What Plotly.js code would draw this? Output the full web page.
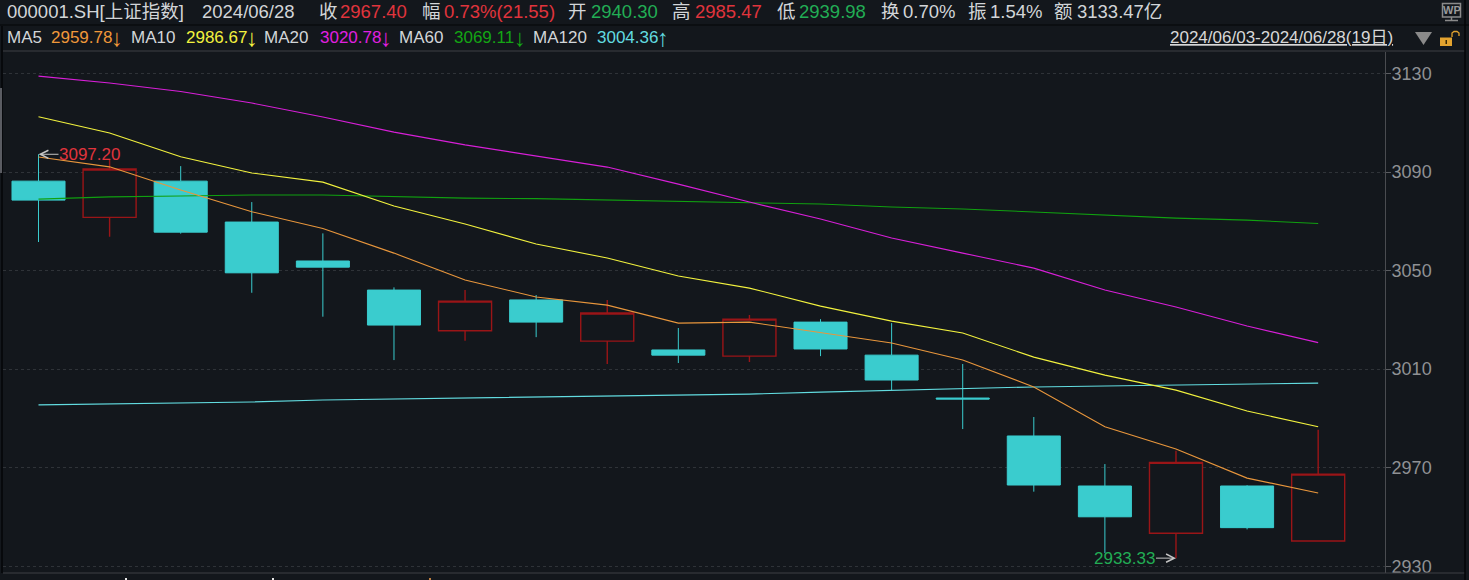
<!DOCTYPE html>
<html><head><meta charset="utf-8">
<script src="https://cdn.plot.ly/plotly-3.0.1.min.js"></script>
<style>html,body{margin:0;padding:0;background:#13171c;overflow:hidden}#c{width:1469px;height:580px}</style>
</head><body><div id="c"></div>
<script>
const dates=["06/03","06/04","06/05","06/06","06/07","06/11","06/12","06/13","06/14","06/17","06/18","06/19","06/20","06/21","06/24","06/25","06/26","06/27","06/28"];
const openV=[3086.3,3071.6,3086.3,3069.7,3053.9,3042.1,3025.6,3038.1,3021.4,3017.8,3015.3,3029.1,3015.7,2998.3,2982.9,2962.6,2943.4,2962.6,2940.30];
const highV=[3097.20,3094.9,3092.4,3077.8,3065.1,3043.2,3042.1,3040.1,3038.1,3026.7,3032.0,3030.3,3028.7,3012.1,2990.6,2971.5,2976.9,2962.9,2985.47];
const lowV=[3061.6,3063.7,3065.0,3041.0,3031.3,3013.7,3021.5,3023.0,3012.1,3012.5,3012.9,3015.3,3001.5,2985.7,2960.3,2935.4,2933.33,2945.0,2939.98];
const closeV=[3078.6,3091.2,3065.6,3049.1,3051.4,3027.9,3037.6,3029.1,3032.8,3015.7,3030.3,3018.2,3005.6,2997.9,2963.0,2950.1,2972.2,2945.7,2967.40];
const ma5=[3096.1,3092.1,3082.7,3073.9,3067.1,3057.1,3046.2,3039.3,3036.0,3028.7,3029.1,3024.7,3020.6,3013.7,3002.8,2986.6,2977.6,2965.8,2959.78];
const ma10=[3112.4,3105.8,3096.2,3089.6,3085.9,3076.2,3068.9,3060.8,3055.1,3047.8,3042.9,3035.6,3029.5,3024.7,3014.9,3007.6,3001.5,2993.0,2986.67];
const ma20=[3128.9,3126.1,3122.7,3118.0,3112.3,3106.2,3101.0,3096.5,3092.0,3085.1,3077.8,3070.9,3063.2,3057.1,3051.0,3042.1,3035.2,3027.5,3020.78];
const ma60=[3079.0,3079.9,3080.3,3080.7,3080.7,3079.9,3079.4,3079.2,3078.6,3078.2,3077.4,3077.0,3075.8,3075.0,3073.8,3072.5,3071.3,3070.5,3069.11];
const ma120=[2995.5,2995.9,2996.3,2996.7,2997.5,2997.9,2998.3,2998.7,2999.1,2999.5,2999.9,3000.7,3001.5,3002.3,3002.8,3003.2,3003.6,3004.0,3004.36];
const yTicks=[2930,2970,3010,3050,3090,3130];

const RED="#e0343c",GRN="#22ad55",TXT="#d2d5d8",FONT='"Liberation Sans","Noto Sans CJK SC",sans-serif';
const C5="#e8963c",C10="#f2f23e",C20="#d81fd8",C60="#10a010",C120="#62dce0";
const L=3,R=1385,T=52,B=573;
const px=x=>(x-L)/(R-L), py=y=>(B-y)/(B-T);

const row1=[["000001.SH[上证指数]",6,TXT],["2024/06/28",201,TXT],["收",318,TXT],["2967.40",339,RED],["幅",421,TXT],["0.73%(21.55)",443,RED],["开",567,TXT],["2940.30",590,GRN],["高",671,TXT],["2985.47",694,RED],["低",776,TXT],["2939.98",798,GRN],["换",880,TXT],["0.70%",902,TXT],["振",967,TXT],["1.54%",989,TXT],["额",1053,TXT],["3133.47亿",1076,TXT]];
const row2=[["MA5",6,TXT],["2959.78",50,"#f0983a"],["MA10",130,TXT],["2986.67",185,C10],["MA20",263,TXT],["3020.78",319,"#e020e0"],["MA60",398,TXT],["3069.11",453,"#14a514"],["MA120",532,TXT],["3004.36",596,C120],["<u>2024/06/03-2024/06/28(19日)</u>",1169,"#d8d8d8"]];
const arrows=[["↓",110,"#f0983a"],["↓",245,C10],["↓",379,"#e020e0"],["↓",513,"#14a514"],["↑",656,C120]];
const txt=(r,y,size)=>({text:r[0],x:px(r[1]),y:py(y),xref:"paper",yref:"paper",xanchor:"left",yanchor:"middle",showarrow:false,borderpad:0,font:{family:FONT,size,color:r[2]}});
const annotations=[...row1.map(r=>txt(r,11.5,18.5)),...row2.map(r=>txt(r,38,17)),...arrows.map(r=>txt(r,37,24)),
 {text:"<b>WP</b>",x:px(1451.5),y:py(10.5),xref:"paper",yref:"paper",xanchor:"center",yanchor:"middle",showarrow:false,borderpad:0,font:{family:FONT,size:11,color:"#9a9a9a"}},
 {text:"3097.20",x:0,y:highV[0],xref:"x",yref:"y",ax:51,ay:0,showarrow:true,arrowhead:5,arrowsize:1.6,arrowwidth:1,arrowcolor:"#c4c4c4",standoff:0,borderpad:0,font:{family:FONT,size:17,color:RED}},
 {text:"2933.33",x:16,y:lowV[16],xref:"x",yref:"y",ax:-51,ay:0,showarrow:true,arrowhead:5,arrowsize:1.6,arrowwidth:1,arrowcolor:"#c4c4c4",standoff:0,borderpad:0,font:{family:FONT,size:17,color:GRN}}
];
const pl=(x0,y0,x1,y1,c,w)=>({type:"line",xref:"paper",yref:"paper",x0:px(x0),y0:py(y0),x1:px(x1),y1:py(y1),line:{color:c,width:w||1}});
const rc=(x0,y0,x1,y1,fill,line,w)=>({type:"rect",xref:"paper",yref:"paper",x0:px(x0),y0:py(y0),x1:px(x1),y1:py(y1),fillcolor:fill,line:{color:line||fill,width:line?(w||1):0}});
const tri=(pts,fill)=>({type:"path",xref:"paper",yref:"paper",path:"M"+pts.map(p=>px(p[0])+","+py(p[1])).join("L")+"Z",fillcolor:fill,line:{width:0}});
const shapes=[
 pl(0,25,1469,25,"#050607",1),pl(3,51,1465,51,"#3e4145",1),pl(3,573,1465,573,"#3e4145",1),
 pl(2,26,2,573,"#050607",1.5),pl(1465,0,1465,580,"#050607",1.5),
 rc(0,88,2,173,"#5a5c62"),
 tri([[1415,32],[1432,32],[1423.5,45]],"#8a8a8a"),
 rc(1440,37.5,1452,46,"#e3a32f"),rc(1445.5,40,1447,44,"#3a2a05"),
 {type:"path",xref:"paper",yref:"paper",path:"M"+px(1452)+","+py(37)+"L"+px(1452)+","+py(33)+"L"+px(1454)+","+py(31.5)+"L"+px(1457)+","+py(31.5)+"L"+px(1459)+","+py(33)+"L"+px(1459)+","+py(36),line:{color:"#e3a32f",width:1.3}},
 rc(1442.5,3.5,1460.5,17,"rgba(0,0,0,0)","#8a8a8a",1.5),pl(1451.5,17,1451.5,20,"#8a8a8a",1.5),pl(1445,20.5,1458,20.5,"#8a8a8a",1.5),
 pl(126,578,126,580,"#e8e8e8",2),pl(273,578,273,580,"#e8e8e8",2),pl(430,578,430,580,"#c08040",2)
];
const line=(y,c,name)=>({type:"scatter",mode:"lines",x:dates,y,name,line:{color:c,width:1.1},hoverinfo:"skip"});
const data=[{type:"candlestick",x:dates,open:openV,high:highV,low:lowV,close:closeV,whiskerwidth:0,
  increasing:{line:{color:"#9a1517",width:1.4},fillcolor:"#13171c"},
  decreasing:{line:{color:"#3accce",width:1},fillcolor:"#3accce"}},
  line(ma120,C120,"MA120"),line(ma60,C60,"MA60"),line(ma20,C20,"MA20"),line(ma10,C10,"MA10"),line(ma5,C5,"MA5")];
const layout={width:1469,height:580,paper_bgcolor:"#13171c",plot_bgcolor:"#13171c",showlegend:false,boxgap:0.254,boxgroupgap:0,
 margin:{l:L,r:1469-R,t:T,b:580-B,pad:0},
 xaxis:{type:"category",categoryorder:"array",categoryarray:dates,range:[-0.4994,18.94],showticklabels:false,ticks:"",showgrid:false,zeroline:false,showline:false,rangeslider:{visible:false},fixedrange:true},
 yaxis:{side:"right",range:[2927.3,3138.7],tickmode:"array",tickvals:yTicks,ticktext:yTicks.map(String),showgrid:true,gridcolor:"#2f3338",griddash:"dot",gridwidth:1,zeroline:false,showline:true,linecolor:"#4a4c50",linewidth:1,ticks:"outside",ticklen:5,tickcolor:"#5a5c60",ticklabelstandoff:-3,tickfont:{family:FONT,size:18,color:"#8f9194"},fixedrange:true},
 annotations,shapes,font:{family:FONT}};
Plotly.newPlot("c",data,layout,{displayModeBar:false,staticPlot:true});
</script></body></html>
